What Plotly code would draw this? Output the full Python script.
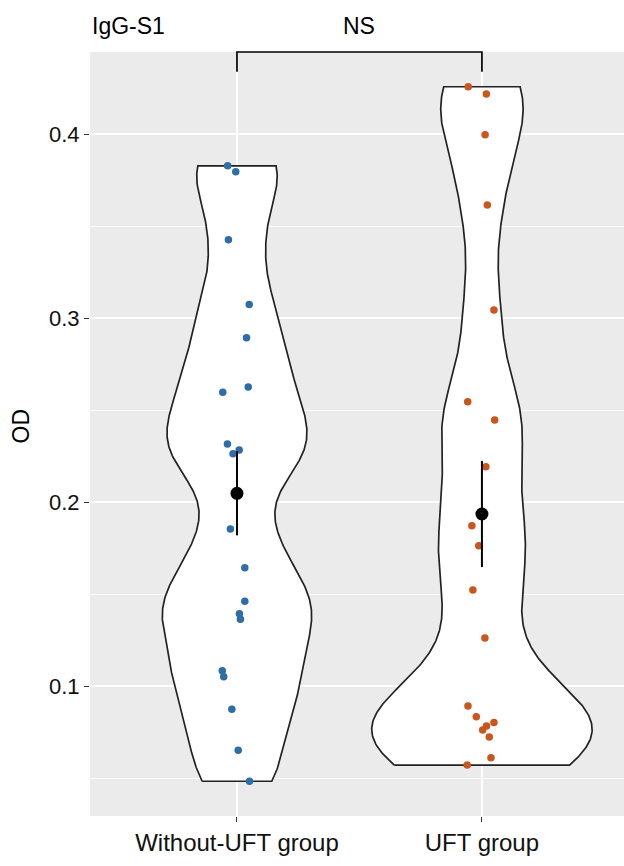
import numpy as np
import plotly.graph_objects as go

# ---------------- data ----------------
categories = ["Without-UFT group", "UFT group"]
od_without_uft = [0.3829, 0.3797, 0.3427, 0.3076, 0.2895, 0.2627, 0.2598, 0.2317, 0.2284, 0.2264,
                  0.1855, 0.1645, 0.1462, 0.1395, 0.1364, 0.1085, 0.1052, 0.0875, 0.0652, 0.0484]
od_uft = [0.4259, 0.4219, 0.3998, 0.3616, 0.3045, 0.2547, 0.2447, 0.2193, 0.1873, 0.1764,
          0.1523, 0.1263, 0.0893, 0.0835, 0.0803, 0.0785, 0.0763, 0.0724, 0.0612, 0.0572]
# horizontal jitter of each point (category units), same order as the values
jitter_without_uft = [-0.038, -0.005, -0.035, 0.050, 0.039, 0.046, -0.058, -0.039, 0.009, -0.016,
                      -0.027, 0.032, 0.032, 0.010, 0.014, -0.060, -0.054, -0.021, 0.005, 0.051]
jitter_uft = [-0.056, 0.018, 0.013, 0.022, 0.049, -0.058, 0.052, 0.016, -0.041, -0.013,
              -0.037, 0.012, -0.057, -0.023, 0.049, 0.019, 0.003, 0.030, 0.037, -0.060]
y_tick_vals = [0.1, 0.2, 0.3, 0.4]
y_tick_text = ["0.1", "0.2", "0.3", "0.4"]
y_minor_vals = [0.05, 0.15, 0.25, 0.35]
title_text = "IgG-S1"
sig_label = "NS"
y_label = "OD"

groups = [od_without_uft, od_uft]
jitters = [jitter_without_uft, jitter_uft]
colors = ["#2E6DA6", "#C9561C"]
FONT = "Liberation Sans, Arial, Helvetica, sans-serif"
VIOLIN_WIDTH = 0.9
BW_ADJUST = 0.40


def bw_nrd0(v):
    v = np.asarray(v, float)
    sd = v.std(ddof=1)
    q75, q25 = np.percentile(v, [75, 25])
    s = min(sd, (q75 - q25) / 1.34)
    return 0.9 * s * len(v) ** (-0.2)


def kde(v, n=512):
    v = np.asarray(v, float)
    bw = bw_nrd0(v) * BW_ADJUST
    t = np.linspace(v.min(), v.max(), n)
    d = np.exp(-0.5 * ((t[:, None] - v[None, :]) / bw) ** 2).sum(axis=1) / (len(v) * bw * np.sqrt(2 * np.pi))
    return t, d


dens = [kde(g) for g in groups]
dmax = max(d.max() for _, d in dens)  # scale = "area"

fig = go.Figure()

# violins (KDE outlines, trimmed to data range)
for i, (t, d) in enumerate(dens):
    half = d / dmax * VIOLIN_WIDTH / 2
    cx = i + 1
    xs = np.concatenate([cx - half, (cx + half)[::-1], [cx - half[0]]])
    ys = np.concatenate([t, t[::-1], [t[0]]])
    fig.add_trace(go.Scatter(
        x=xs, y=ys, mode="lines", fill="toself", fillcolor="white",
        line=dict(color="#222222", width=1.7), showlegend=False, hoverinfo="skip",
    ))

# jittered points
for i, vals in enumerate(groups):
    xs = [i + 1 + j for j in jitters[i]]
    fig.add_trace(go.Scatter(
        x=xs, y=vals, mode="markers",
        marker=dict(color=colors[i], size=7.5, line=dict(width=0)),
        showlegend=False, hoverinfo="skip",
    ))

# mean +/- SE
means = [float(np.mean(v)) for v in groups]
ses = [float(np.std(v, ddof=1) / np.sqrt(len(v))) for v in groups]
fig.add_trace(go.Scatter(
    x=[1, 2], y=means, mode="markers",
    marker=dict(color="black", size=13),
    error_y=dict(type="data", array=ses, visible=True, color="black", thickness=2, width=0),
    showlegend=False, hoverinfo="skip",
))

allv = np.concatenate([np.asarray(g) for g in groups])
lo, hi = allv.min(), allv.max()
pad = 0.05 * (hi - lo)
yr = [lo - pad, hi + pad]
xr = [0.4, 2.58]


def xpaper(x):
    return (x - xr[0]) / (xr[1] - xr[0])


tip = 0.026
fig.add_shape(type="path",
              path=f"M {xpaper(1)} {1 - tip} L {xpaper(1)} 1 L {xpaper(2)} 1 L {xpaper(2)} {1 - tip}",
              xref="paper", yref="paper", line=dict(color="black", width=1.7))

fig.add_annotation(text=sig_label, x=1.5, xref="x", y=1.034, yref="paper",
                   showarrow=False, font=dict(family=FONT, size=23, color="black"),
                   xanchor="center", yanchor="middle")
fig.add_annotation(text=title_text, x=0, xref="paper", y=1.034, yref="paper",
                   showarrow=False, font=dict(family=FONT, size=23, color="black"),
                   xanchor="left", yanchor="middle")
fig.add_annotation(text=y_label, x=-0.129, xref="paper", y=0.51, yref="paper",
                   showarrow=False, textangle=-90, font=dict(family=FONT, size=23, color="black"),
                   xanchor="center", yanchor="middle")

fig.update_layout(
    width=624, height=866,
    margin=dict(l=90, r=0, t=52, b=50),
    paper_bgcolor="white", plot_bgcolor="#EBEBEB",
    font=dict(family=FONT, color="black"),
    xaxis=dict(range=xr, tickvals=[1, 2], ticktext=categories,
               showgrid=True, gridcolor="white", gridwidth=1.6,
               ticks="outside", ticklen=5, tickwidth=1.4, tickcolor="#333333",
               tickfont=dict(size=24, color="#111111"), zeroline=False, showline=False),
    yaxis=dict(range=yr, tickvals=y_tick_vals, ticktext=y_tick_text,
               showgrid=True, gridcolor="white", gridwidth=1.6,
               minor=dict(tickvals=y_minor_vals, showgrid=True, gridcolor="white", gridwidth=0.8, ticks=""),
               ticks="outside", ticklen=5, tickwidth=1.4, tickcolor="#333333",
               tickfont=dict(size=22, color="#111111"), zeroline=False, showline=False),
)

fig.write_html("out.html", config={"displayModeBar": False},
               post_script="document.body.style.margin='0';document.body.style.overflow='hidden';")
